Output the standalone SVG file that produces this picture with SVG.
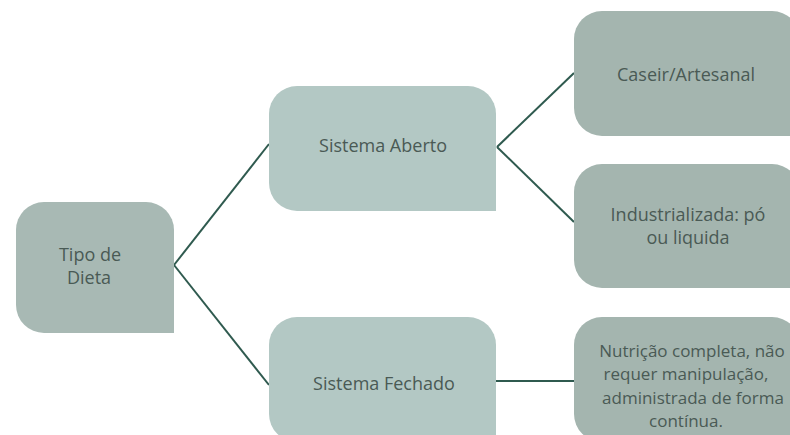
<svg xmlns="http://www.w3.org/2000/svg" width="790" height="435" viewBox="0 0 790 435">
<style>
.n1{fill:#a8b9b4}
.n2{fill:#b3c8c4}
.n3{fill:#a4b5af}
text{font-family:"Open Sans","DejaVu Sans",sans-serif;font-size:18px;fill:#4a5a55;text-anchor:middle}
.sm{font-size:17px}
.c{stroke:#2f5a4f;stroke-width:2;fill:none}
</style>
<rect width="790" height="435" fill="#ffffff"/>
<g id="connectors">
<line class="c" x1="174" y1="265" x2="269" y2="144"/>
<line class="c" x1="174" y1="265" x2="269" y2="385"/>
<line class="c" x1="497" y1="147" x2="574" y2="73"/>
<line class="c" x1="497" y1="147" x2="574" y2="222"/>
<line class="c" x1="496" y1="381" x2="574" y2="381"/>
</g>
<g id="tipo">
<path class="n1" d="M44,202 H146 A28,28 0 0 1 174,230 V333 H44 A28,28 0 0 1 16,305 V230 A28,28 0 0 1 44,202 Z"/>
<text x="90" y="261">Tipo de</text>
<text x="89" y="284">Dieta</text>
</g>
<g id="aberto">
<path class="n2" d="M297,86 H468 A28,28 0 0 1 496,114 V211 H297 A28,28 0 0 1 269,183 V114 A28,28 0 0 1 297,86 Z"/>
<text x="383" y="152">Sistema Aberto</text>
</g>
<g id="fechado">
<path class="n2" d="M297,317 H468 A28,28 0 0 1 496,345 V442 H297 A28,28 0 0 1 269,414 V345 A28,28 0 0 1 297,317 Z"/>
<text x="384" y="390">Sistema Fechado</text>
</g>
<g id="caseir">
<path class="n3" d="M602,11 H772 A28,28 0 0 1 800,39 V136 H602 A28,28 0 0 1 574,108 V39 A28,28 0 0 1 602,11 Z"/>
<text x="686" y="81">Caseir/Artesanal</text>
</g>
<g id="industrializada">
<path class="n3" d="M602,164 H772 A28,28 0 0 1 800,192 V288 H602 A28,28 0 0 1 574,260 V192 A28,28 0 0 1 602,164 Z"/>
<text x="688" y="221">Industrializada: pó</text>
<text x="688" y="244">ou liquida</text>
</g>
<g id="nutricao">
<path class="n3" d="M602,317 H772 A28,28 0 0 1 800,345 V442 H602 A28,28 0 0 1 574,414 V345 A28,28 0 0 1 602,317 Z"/>
<text class="sm" x="692" y="357">Nutrição completa, não</text>
<text class="sm" x="686" y="380">requer manipulação,</text>
<text class="sm" x="693" y="404">administrada de forma</text>
<text class="sm" x="686" y="427">contínua.</text>
</g>
</svg>
